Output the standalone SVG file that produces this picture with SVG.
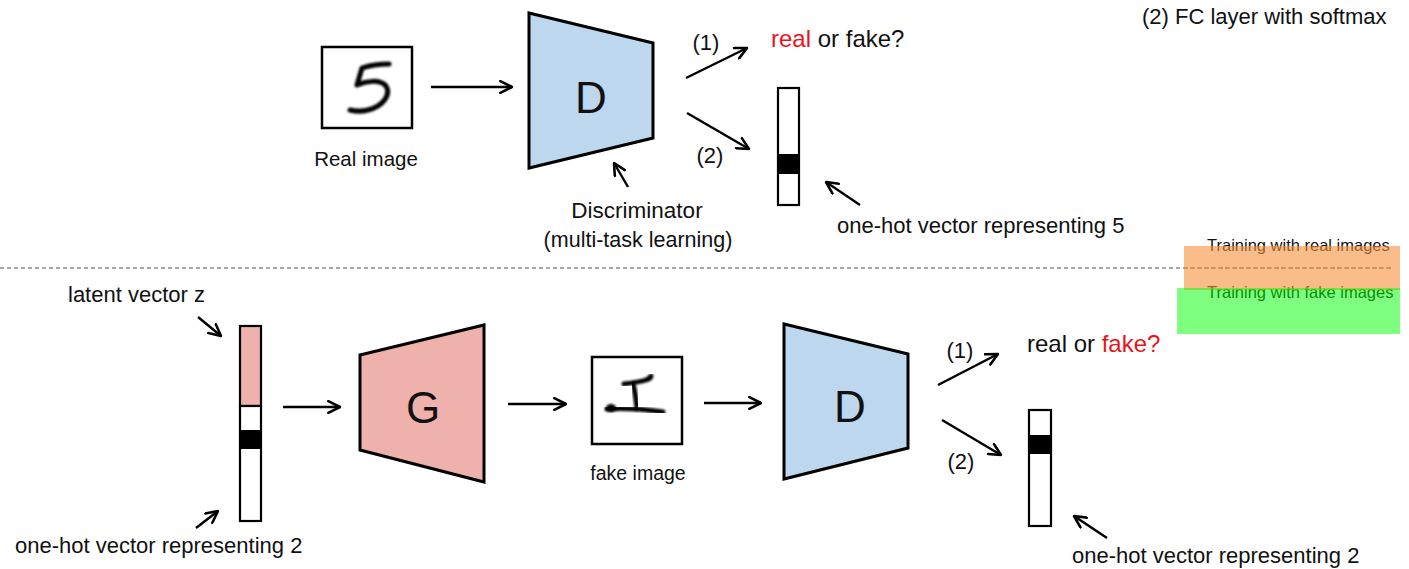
<svg xmlns="http://www.w3.org/2000/svg" width="1409" height="569" viewBox="0 0 1409 569">
  <defs>
    <marker id="open-arrow" viewBox="0 0 12 12" refX="11" refY="6" markerWidth="14" markerHeight="14" markerUnits="userSpaceOnUse" orient="auto">
      <path d="M1,1 L11,6 L1,11" fill="none" stroke="#000" stroke-width="2.2" stroke-linecap="round" stroke-linejoin="round"/>
    </marker>
    <filter id="ink-blur" x="-20%" y="-20%" width="140%" height="140%">
      <feGaussianBlur stdDeviation="1.1"/>
    </filter>
    <style>
      text { font-family: "Liberation Sans", Arial, sans-serif; fill: #111; }
      .conn { stroke: #000; stroke-width: 2.4; fill: none; marker-end: url(#open-arrow); }
      .disc { fill: #BDD7EE; stroke: #000; stroke-width: 3; stroke-linejoin: miter; }
      .gen { fill: #EFB1AB; stroke: #000; stroke-width: 3; stroke-linejoin: miter; }
      .box { fill: #fff; stroke: #000; stroke-width: 2.5; }
      .vec { fill: #fff; stroke: #000; stroke-width: 2.2; }
      .ink { fill: none; stroke: #000; stroke-width: 5; stroke-linecap: round; stroke-linejoin: round; filter: url(#ink-blur); }
      .lbl { font-size: 22px; }
      .red { fill: #E8141C; }
      .legend { font-size: 16.5px; }
    </style>
  </defs>

  <!-- ===== top row: training with real images ===== -->
  <g id="real-image">
    <rect class="box" x="322" y="47" width="90" height="81"/>
    <path class="ink" d="M389,64 C378,64 368,66 362,68 L357,85 C366,81 380,79 386,86 C391,94 384,106 368,110 C360,112 354,111 350,110"/>
    <text x="366" y="166" font-size="20.5" text-anchor="middle">Real image</text>
  </g>

  <g id="discriminator-top">
    <polygon class="disc" points="529,13 653,43 653,138 529,168"/>
    <text x="591" y="113" font-size="44" text-anchor="middle">D</text>
  </g>

  <g id="discriminator-note">
    <text x="637" y="218" font-size="22.5" text-anchor="middle">Discriminator</text>
    <text x="638" y="247" font-size="21.5" text-anchor="middle">(multi-task learning)</text>
  </g>

  <g id="output-realfake-top">
    <text x="771" y="47" font-size="24"><tspan class="red">real</tspan> or fake?</text>
  </g>

  <g id="onehot-top">
    <rect class="vec" x="778" y="88" width="21" height="117"/>
    <rect x="778" y="154" width="21" height="20" fill="#000"/>
    <text x="837" y="233" class="lbl">one-hot vector representing 5</text>
  </g>

  <g id="fc-note">
    <text x="1142" y="24" class="lbl">(2) FC layer with softmax</text>
  </g>

  <g id="branch-labels-top">
    <text x="706" y="50" class="lbl" text-anchor="middle">(1)</text>
    <text x="710" y="163" class="lbl" text-anchor="middle">(2)</text>
  </g>

  <!-- separator between the two phases -->
  <line x1="0" y1="268" x2="1393" y2="268" stroke="#8a8a8a" stroke-width="1.4" stroke-dasharray="4,3"/>

  <!-- ===== bottom row: training with fake images ===== -->
  <g id="latent-input">
    <rect x="240" y="326" width="21" height="80" fill="#EFB1AB" stroke="#000" stroke-width="2.2"/>
    <rect class="vec" x="240" y="406" width="21" height="115"/>
    <rect x="240" y="430" width="21" height="19" fill="#000"/>
    <text x="68" y="302" class="lbl">latent vector z</text>
    <text x="15" y="553" class="lbl">one-hot vector representing 2</text>
  </g>

  <g id="generator">
    <polygon class="gen" points="360,355 484,325 484,482 360,450"/>
    <text x="423" y="423" font-size="44" text-anchor="middle">G</text>
  </g>

  <g id="fake-image">
    <rect class="box" x="592" y="357" width="90" height="87"/>
    <path class="ink" d="M607,409 C622,408 642,409 663,412"/>
    <path class="ink" d="M637,408 C636,399 635,390 633,384"/>
    <path class="ink" d="M624,384 C632,383 640,382 646,380 C649,379 651,377 651,376"/>
    <ellipse cx="611" cy="408" rx="5" ry="4" fill="#000" filter="url(#ink-blur)"/>
    <text x="638" y="480" font-size="19.5" text-anchor="middle">fake image</text>
  </g>

  <g id="discriminator-bottom">
    <polygon class="disc" points="784,324 908,354 908,448 784,479"/>
    <text x="850" y="422" font-size="44" text-anchor="middle">D</text>
  </g>

  <g id="output-realfake-bottom">
    <text x="1027" y="352" font-size="24">real or <tspan class="red">fake?</tspan></text>
  </g>

  <g id="onehot-bottom">
    <rect class="vec" x="1029" y="410" width="22" height="116"/>
    <rect x="1029" y="435" width="22" height="19" fill="#000"/>
    <text x="1072" y="563" class="lbl">one-hot vector representing 2</text>
  </g>

  <g id="branch-labels-bottom">
    <text x="960" y="358" class="lbl" text-anchor="middle">(1)</text>
    <text x="961" y="469" class="lbl" text-anchor="middle">(2)</text>
  </g>

  <!-- legend: translucent bands laid over their captions -->
  <g id="legend">
    <text x="1207" y="251" class="legend">Training with real images</text>
    <text x="1207" y="298" class="legend">Training with fake images</text>
    <line x1="1184" y1="268" x2="1393" y2="268" stroke="#8a8a8a" stroke-width="1.4" stroke-dasharray="4,3"/>
    <rect x="1184" y="246" width="216" height="44" fill="#F7913A" opacity="0.6"/>
    <rect x="1177" y="288" width="223" height="46" fill="#00FF00" opacity="0.5"/>
  </g>

  <!-- ===== connectors ===== -->
  <g id="connectors">
    <line class="conn" x1="431" y1="87" x2="512" y2="87"/>
    <line class="conn" x1="686" y1="78" x2="747" y2="48"/>
    <line class="conn" x1="687" y1="113" x2="749" y2="149"/>
    <line class="conn" x1="628" y1="187" x2="614" y2="163"/>
    <line class="conn" x1="860" y1="205" x2="826" y2="182"/>

    <line class="conn" x1="198" y1="317" x2="221" y2="336"/>
    <line class="conn" x1="196" y1="528" x2="218" y2="511"/>
    <line class="conn" x1="283" y1="407" x2="340" y2="407"/>
    <line class="conn" x1="508" y1="404" x2="566" y2="404"/>
    <line class="conn" x1="704" y1="403" x2="761" y2="403"/>
    <line class="conn" x1="938" y1="385" x2="998" y2="354"/>
    <line class="conn" x1="942" y1="420" x2="1001" y2="455"/>
    <line class="conn" x1="1107" y1="538" x2="1074" y2="516"/>
  </g>
</svg>
